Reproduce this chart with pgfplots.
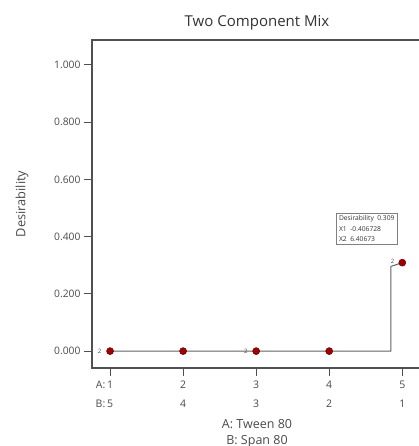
\documentclass[border=0pt]{standalone}
\usepackage{fontspec}
\setmainfont{Open Sans}
\usepackage{pgfplots}
\pgfplotsset{compat=1.18}
\definecolor{axgray}{HTML}{505050}
\definecolor{txtgray}{HTML}{4A4A4A}
\definecolor{ptred}{HTML}{A00000}
\begin{document}
\begin{tikzpicture}[x=1pt,y=1pt]
\begin{axis}[
  at={(92pt,78pt)}, anchor=south west,
  scale only axis, width=330pt, height=328pt,
  xmin=0.753, xmax=5.27, ymin=-0.059, ymax=1.087,
  axis line style={axgray, line width=1.2pt},
  xtick={1,2,3,4,5},
  xticklabels={{\llap{A:\,}1\\\llap{B:\,}5},{2\\4},{3\\3},{4\\2},{5\\1}},
  xticklabel style={align=center, font=\fontsize{10.5}{19}\selectfont, text=txtgray, yshift=-1pt},
  ytick={0,0.2,0.4,0.6,0.8,1.0},
  yticklabel style={font=\fontsize{10.3}{12}\selectfont, text=txtgray, xshift=0pt},
  /pgf/number format/assume math mode=true,
  /pgf/number format/.cd, fixed, fixed zerofill, precision=3, /pgfplots/.cd,
  tick align=outside, major tick length=8pt,
  tick style={axgray, line width=0.9pt},
  xtick pos=bottom, ytick pos=left,
  title={Two Component Mix},
  title style={font=\fontsize{15}{18}\selectfont, text=black!80, yshift=0pt},
  ylabel={Desirability},
  ylabel style={at={(axis description cs:-0.212,0.5)}, anchor=center, font=\fontsize{12.8}{15}\selectfont, text=txtgray},
  xlabel={A: Tween 80\\B: Span 80},
  xlabel style={at={(axis description cs:0.5,-0.145)}, anchor=north, align=center, font=\fontsize{12.5}{16}\selectfont, text=txtgray},
  clip=false,
]
\addplot[axgray!90, line width=1pt, no marks] coordinates {(1,0) (4.845,0) (4.845,0.296) (5,0.309)};
\addplot[only marks, mark=*, mark size=3.5pt, mark options={fill=ptred, draw=ptred!60!black, line width=0.5pt}] coordinates {(1,0) (2,0) (3,0) (4,0) (5,0.309)};
\node[font=\fontsize{6}{7}\selectfont, text=txtgray, anchor=east] at (axis cs:0.93,0) {2};
\node[font=\fontsize{6}{7}\selectfont, text=txtgray, anchor=east] at (axis cs:2.93,0) {2};
\node[font=\fontsize{6}{7}\selectfont, text=txtgray, anchor=east] at (axis cs:4.94,0.313) {2};
\node[draw=gray, line width=0.7pt, fill=white, anchor=north west, align=left, inner sep=2.5pt,
  font=\fontsize{6.7}{10.5}\selectfont, text=black!80] at (axis cs:4.096,0.4825)
  {Desirability\ \ 0.309\\X1\ \ -0.406728\\X2\ \ 6.40673};
\end{axis}
\pgfresetboundingbox
\path (0,0) rectangle (419,446);
\end{tikzpicture}
\end{document}
